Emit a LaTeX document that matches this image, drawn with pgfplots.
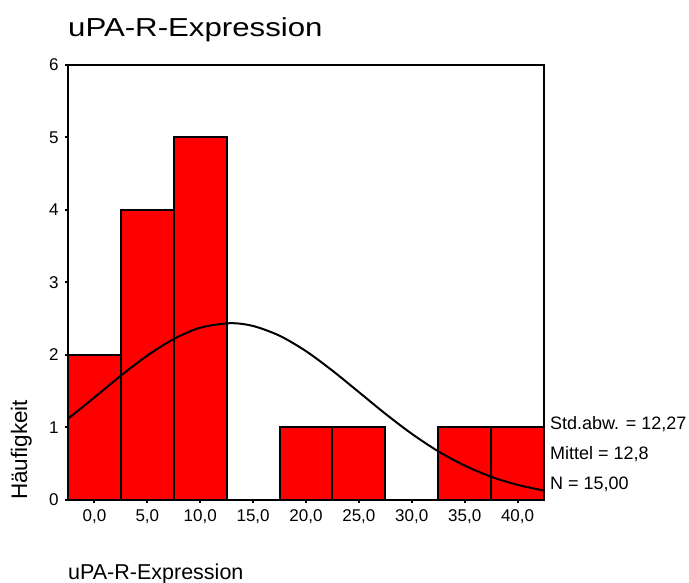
\documentclass[border=0pt]{standalone}
\usepackage{pgfplots}
\pgfplotsset{compat=1.18}
\usepackage{fontspec}
\setmainfont{Liberation Sans}
\usepackage{graphicx}

\begin{document}
\begin{tikzpicture}[x=1pt,y=1pt]
\useasboundingbox (0,0) rectangle (689,583);
\begin{axis}[
  at={(68pt,83pt)}, anchor=south west,
  width=476pt, height=435pt, scale only axis,
  xmin=-2.5, xmax=42.5, ymin=0, ymax=6,
  axis line style={line width=2pt},
  xtick={0,5,10,15,20,25,30,35,40},
  xticklabels={{0,0},{5,0},{10,0},{15,0},{20,0},{25,0},{30,0},{35,0},{40,0}},
  ytick={0,1,2,3,4,5,6},
  xtick pos=lower, ytick pos=left,
  tick align=outside, major tick length=3pt,
  tick style={line width=2pt, black},
  tick label style={font=\fontsize{17}{20}\selectfont},
  /pgf/number format/assume math mode=true,
  xticklabel style={yshift=-3pt},
  yticklabel style={xshift=-3pt},
]
\addplot[ybar interval, fill=red, draw=black, line width=2pt] coordinates {
  (-2.5,2) (2.5,4) (7.5,5) (12.5,0) (17.5,1) (22.5,1) (27.5,0) (32.5,1) (37.5,1) (42.5,1)
};
\addplot[black, line width=2pt, smooth] coordinates {
  (-2.5,1.121) (0,1.415) (2.5,1.715) (5,1.992) (7.5,2.221) (10,2.376) (12.8,2.4385)
  (15,2.400) (17.5,2.266) (20,2.053) (22.5,1.784) (25,1.488) (27.5,1.190) (30,0.913)
  (32.5,0.672) (35,0.475) (37.5,0.321) (40,0.209) (42.5,0.130)
};
\end{axis}
\node[anchor=base west, inner sep=0, font=\fontsize{26}{30}\selectfont] at (68,546) {\scalebox{1.2}[1]{uPA-R-Expression}};
\node[anchor=base west, inner sep=0, font=\fontsize{18}{20}\selectfont] at (550,153) {Std.abw. = 12,27};
\node[anchor=base west, inner sep=0, font=\fontsize{18}{20}\selectfont] at (550,123) {Mittel = 12,8};
\node[anchor=base west, inner sep=0, font=\fontsize{18}{20}\selectfont] at (550,93) {N = 15,00};
\node[rotate=90, anchor=base west, inner sep=0, font=\fontsize{22.5}{26}\selectfont] at (27,83) {Häufigkeit};
\node[anchor=base west, inner sep=0, font=\fontsize{21.5}{24}\selectfont] at (68,3) {uPA-R-Expression};
\end{tikzpicture}
\end{document}
